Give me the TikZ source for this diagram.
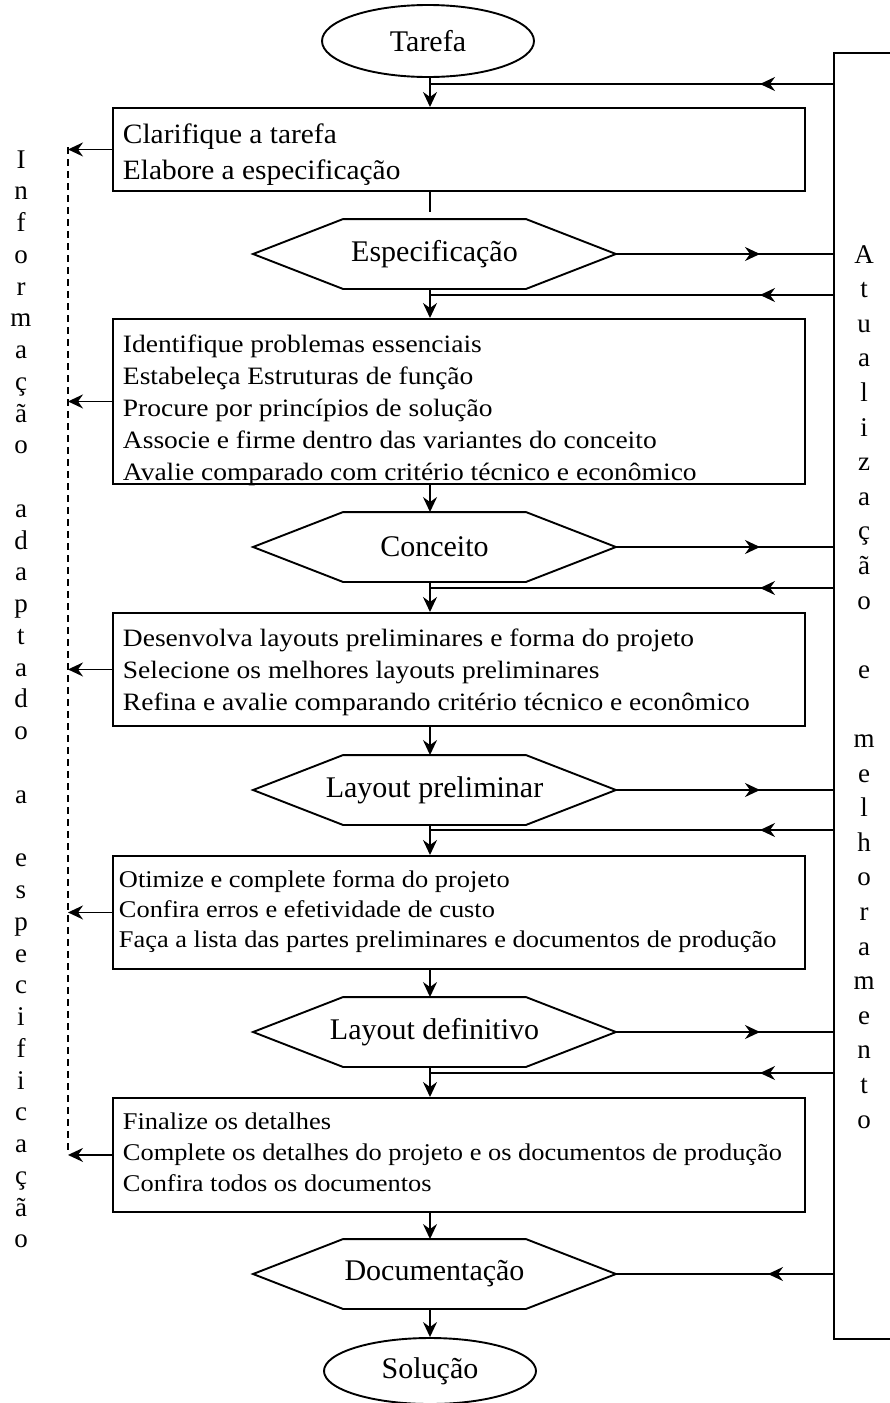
\documentclass[tikz,border=0pt]{standalone}
\usepackage{fontspec}
\setmainfont{Liberation Serif}
\newfontfamily\stepfont{Liberation Serif}[FakeStretch=1.1]
\newfontfamily\headfont{Liberation Serif}[FakeStretch=1.05]
\usetikzlibrary{arrows.meta,calc,shapes.geometric}

\begin{document}
\begin{tikzpicture}[x=1pt,y=-1pt,
  line width=1.9pt,
  tip/.style={-{Stealth[length=15pt,width=14pt,inset=5pt]}},
  stepbox/.style={draw,rectangle,minimum width=692pt,inner sep=0pt,anchor=north west},
  stepline/.style={anchor=base west,inner sep=0pt,font=\stepfont\fontsize{25}{30}\selectfont},
  smallline/.style={stepline,font=\stepfont\fontsize{24}{30}\selectfont},
  headline/.style={anchor=base west,inner sep=0pt,font=\headfont\fontsize{28}{34}\selectfont},
  term/.style={draw,ellipse,minimum width=212pt,minimum height=72pt,
    inner sep=0pt,font=\fontsize{30}{36}\selectfont},
  hexa/.style={minimum width=361pt,minimum height=68pt,inner sep=0pt,
    font=\fontsize{30}{36}\selectfont},
  sidechar/.style={anchor=base,inner sep=0pt,font=\fontsize{27}{27}\selectfont},
  infoline/.style={line width=1.4pt,dash pattern=on 7pt off 5pt},
]
\useasboundingbox (0,0) rectangle (890,1403);
\clip (0,0) rectangle (890,1403);

% axis of the main flow and the column where the side arrow tips sit
\coordinate (axis) at (430,0);
\coordinate (tipcol) at (760,0);

% terminals
\node[term] (tarefa) at (428,41) {Tarefa};
\node[term,minimum height=66pt] (solucao) at (430,1371) {Solução};

% working steps: frames
\node[stepbox,minimum height=83pt] (box1) at (112,107) {};
\node[stepbox,minimum height=165pt] (box2) at (112,318) {};
\node[stepbox,minimum height=113pt] (box3) at (112,612) {};
\node[stepbox,minimum height=113pt] (box4) at (112,855) {};
\node[stepbox,minimum height=114pt] (box5) at (112,1097) {};

% working steps: texts
\foreach \t [count=\i] in {Clarifique a tarefa,Elabore a especificação}
  \node[headline] (b1l\i) at (122,{107+\i*36}) {\t};
\foreach \t [count=\i] in {Identifique problemas essenciais,
    Estabeleça Estruturas de função,
    Procure por princípios de solução,
    Associe e firme dentro das variantes do conceito,
    Avalie comparado com critério técnico e econômico}
  \node[stepline] (b2l\i) at (122,{320+\i*32}) {\t};
\foreach \t [count=\i] in {Desenvolva layouts preliminares e forma do projeto,
    Selecione os melhores layouts preliminares,
    Refina e avalie comparando critério técnico e econômico}
  \node[stepline] (b3l\i) at (122,{614+\i*32}) {\t};
\foreach \t [count=\i] in {Otimize e complete forma do projeto,
    Confira erros e efetividade de custo,
    Faça a lista das partes preliminares e documentos de produção}
  \node[smallline] (b4l\i) at (118,{857+\i*30}) {\t};
\foreach \t [count=\i] in {Finalize os detalhes,
    Complete os detalhes do projeto e os documentos de produção,
    Confira todos os documentos}
  \node[smallline] (b5l\i) at (122,{1098+\i*31}) {\t};

% results of each phase
\node[hexa] (spec) at (434.5,254) {Especificação};
\node[hexa] (conc) at (434.5,547) {Conceito};
\node[hexa] (lpre) at (434.5,790) {Layout preliminar};
\node[hexa] (ldef) at (434.5,1032) {Layout definitivo};
\node[hexa] (docu) at (434.5,1274) {Documentação};
\foreach \h in {spec,conc,lpre,ldef,docu}
  \draw (\h.west) -- ([xshift=90pt]\h.north west) -- ([xshift=-90pt]\h.north east)
        -- (\h.east) -- ([xshift=-90pt]\h.south east) -- ([xshift=90pt]\h.south west) -- cycle;

% update and improvement column
\node[draw,rectangle,anchor=north west,minimum width=120pt,minimum height=1286pt,
  inner sep=0pt] (upd) at (833,52) {};
\foreach \ch [count=\i from 0] in {A,t,u,a,l,i,z,a,ç,ã,o,{},e,{},m,e,l,h,o,r,a,m,e,n,t,o}
  \node[sidechar] (R\i) at (864,{263+\i*34.6}) {\ch};

% information column
\foreach \ch [count=\i from 0] in {I,n,f,o,r,m,a,ç,ã,o,{},a,d,a,p,t,a,d,o,{},a,{},e,s,p,e,c,i,f,i,c,a,ç,ã,o}
  \node[sidechar] (L\i) at (21,{168+\i*31.76}) {\ch};
\coordinate (dtop) at (68,147);
\coordinate (dbot) at (68,1153);
\draw[infoline] (dtop) -- (dbot);
\foreach \b in {box1,box2,box3,box4,box5}
  \draw[tip] (\b.west) -- (\b.west -| dtop);

% main flow
\draw[tip] (tarefa.south -| axis) -- (box1.north -| axis);
\draw[shorten >=7pt] (box1.south -| axis) -- (spec.north -| axis);
\draw[tip] (spec.south -| axis) -- (box2.north -| axis);
\draw[tip] (box2.south -| axis) -- (conc.north -| axis);
\draw[tip] (conc.south -| axis) -- (box3.north -| axis);
\draw[tip] (box3.south -| axis) -- (lpre.north -| axis);
\draw[tip] (lpre.south -| axis) -- (box4.north -| axis);
\draw[tip] (box4.south -| axis) -- (ldef.north -| axis);
\draw[tip] (ldef.south -| axis) -- (box5.north -| axis);
\draw[tip] (box5.south -| axis) -- (docu.north -| axis);
\draw[tip] (docu.south -| axis) -- (solucao.north -| axis);

% results sent to the update column
\foreach \h in {spec,conc,lpre,ldef}{
  \draw (\h.east) -- (\h.east -| upd.west);
  \draw[tip] (\h.east) -- (\h.east -| tipcol);
}

% feedback from the update column into the flow
\foreach \y [count=\k] in {84,295,588,830,1073}{
  \coordinate (fb\k) at (833,\y);
  \draw (fb\k) -- (fb\k -| axis);
  \draw[tip] (fb\k) -- (fb\k -| tipcol);
}
\draw (docu.east -| upd.west) -- (docu.east);
\draw[tip] (docu.east -| upd.west) -- ([xshift=8pt]docu.east -| tipcol);
\end{tikzpicture}
\end{document}
